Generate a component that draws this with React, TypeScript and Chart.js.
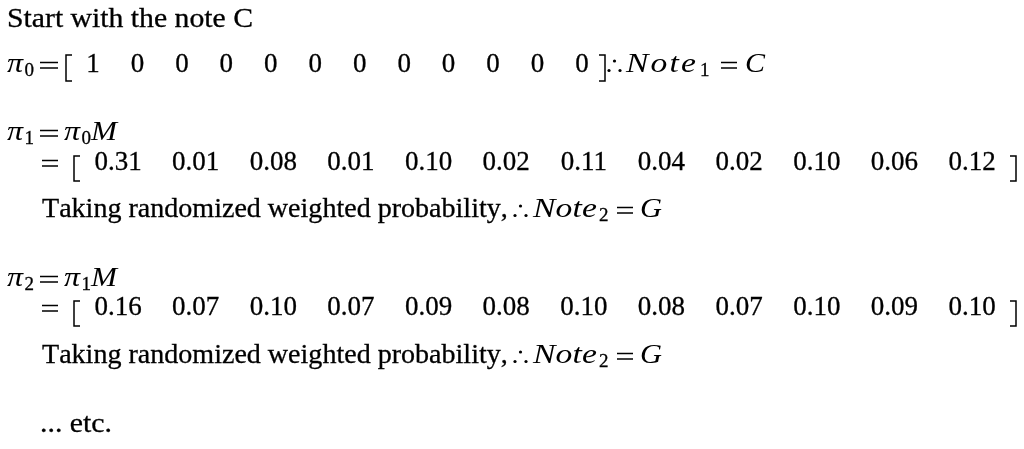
import React, { useEffect, useRef } from "react";
import { Chart, registerables } from "chart.js";

Chart.register(...registerables);

// values
const PI0_VALUES = [1, 0, 0, 0, 0, 0, 0, 0, 0, 0, 0, 0];
const PI1_VALUES = [0.31, 0.01, 0.08, 0.01, 0.1, 0.02, 0.11, 0.04, 0.02, 0.1, 0.06, 0.12];
const PI2_VALUES = [0.16, 0.07, 0.1, 0.07, 0.09, 0.08, 0.1, 0.08, 0.07, 0.1, 0.09, 0.1];
const NOTES = ["C", "G", "G"];
const INTRO = "Start with the note C";
const STEP_TEXT = "Taking randomized weighted probability,";
const ETC = "... etc.";

// layout
const W = 1024;
const H = 449;
const COL0 = { first: 93, step: 44.45 };
const COL1 = { first: 118, step: 77.64 };
const BASE = { intro: 27, row0: 72, eq1: 140, row1: 170, take1: 217, eq2: 286, row2: 315, take2: 363, etc: 432 };

const SERIF = '"Liberation Serif", "Times New Roman", serif';
const F_MAIN = `28px ${SERIF}`;
const F_NUM = `27px ${SERIF}`;
const F_IT = `italic 28px ${SERIF}`;
const F_SUB = `19px ${SERIF}`;

// draw a run at a given width: mild horizontal stretch, rest as letter spacing
function txt(ctx: CanvasRenderingContext2D, s: string, x: number, y: number, font: string, width?: number, maxScale = 1.2) {
  ctx.font = font;
  ctx.textAlign = "left";
  const heavy = !font.startsWith("italic");
  const w = ctx.measureText(s).width;
  const k = width ? Math.min(width / w, maxScale) : 1;
  const gap = width && s.length > 1 ? (width - w * k) / (s.length - 1) : 0;
  ctx.save();
  ctx.translate(x, y);
  ctx.scale(k, 1);
  let cx = 0;
  for (const ch of s) {
    ctx.fillText(ch, cx, 0);
    if (heavy) ctx.strokeText(ch, cx, 0);
    cx += ctx.measureText(ch).width + gap / k;
  }
  ctx.restore();
}

function equals(ctx: CanvasRenderingContext2D, x1: number, x2: number, base: number) {
  ctx.save();
  ctx.lineWidth = 1.4;
  ctx.beginPath();
  ctx.moveTo(x1, base - 9.5);
  ctx.lineTo(x2, base - 9.5);
  ctx.moveTo(x1, base - 4);
  ctx.lineTo(x2, base - 4);
  ctx.stroke();
  ctx.restore();
}

function bracket(ctx: CanvasRenderingContext2D, x: number, top: number, bottom: number, dir: number) {
  ctx.save();
  ctx.lineWidth = 1.5;
  ctx.beginPath();
  ctx.moveTo(x + dir * 6, top);
  ctx.lineTo(x, top);
  ctx.lineTo(x, bottom);
  ctx.lineTo(x + dir * 6, bottom);
  ctx.stroke();
  ctx.restore();
}

function therefore(ctx: CanvasRenderingContext2D, x: number, base: number) {
  const dots = [
    [x + 2, base - 1.5],
    [x + 7.5, base - 11],
    [x + 13, base - 1.5],
  ];
  for (const [dx, dy] of dots) {
    ctx.beginPath();
    ctx.arc(dx, dy, 1.6, 0, Math.PI * 2);
    ctx.fill();
  }
}

function piSub(ctx: CanvasRenderingContext2D, x: number, base: number, sub: string) {
  txt(ctx, "π", x, base, F_IT, 16);
  txt(ctx, sub, x + 17.5, base + 4, F_SUB);
}

const mathPlugin = {
  id: "mathText",
  afterDraw(chart: any) {
    const ctx: CanvasRenderingContext2D = chart.ctx;
    ctx.save();
    ctx.fillStyle = "#000";
    ctx.strokeStyle = "#000";
    ctx.lineWidth = 0.3;
    ctx.textBaseline = "alphabetic";

    txt(ctx, INTRO, 7, BASE.intro, F_MAIN, 246);

    // pi_0 row
    piSub(ctx, 7, BASE.row0, "0");
    equals(ctx, 40, 58, BASE.row0);
    bracket(ctx, 66, BASE.row0 - 17, BASE.row0 + 9, 1);
    bracket(ctx, 605, BASE.row0 - 17, BASE.row0 + 9, -1);
    therefore(ctx, 607, BASE.row0);
    txt(ctx, "Note", 626, BASE.row0, F_IT, 70);
    txt(ctx, "1", 700, BASE.row0 + 4, F_SUB);
    equals(ctx, 721, 737, BASE.row0);
    txt(ctx, NOTES[0], 745, BASE.row0, F_IT, 20);

    // pi_1, pi_2 blocks
    const blocks = [
      { eq: BASE.eq1, row: BASE.row1, take: BASE.take1, sub: "1", prev: "0", note: NOTES[1] },
      { eq: BASE.eq2, row: BASE.row2, take: BASE.take2, sub: "2", prev: "1", note: NOTES[2] },
    ];
    for (const b of blocks) {
      piSub(ctx, 7, b.eq, b.sub);
      equals(ctx, 40, 58, b.eq);
      piSub(ctx, 64, b.eq, b.prev);
      txt(ctx, "M", 91, b.eq, F_IT, 26);

      equals(ctx, 42, 58, b.row);
      bracket(ctx, 74, b.row - 14, b.row + 11, 1);
      bracket(ctx, 1016, b.row - 14, b.row + 11, -1);

      txt(ctx, STEP_TEXT, 42, b.take, F_MAIN, 462);
      therefore(ctx, 513, b.take);
      txt(ctx, "Note", 533, b.take, F_IT, 64);
      txt(ctx, "2", 599, b.take + 4, F_SUB);
      equals(ctx, 617, 633, b.take);
      txt(ctx, b.note, 640, b.take, F_IT, 22);
    }

    txt(ctx, ETC, 40, BASE.etc, F_MAIN, 72);

    // vector entries, placed through the chart's scales
    ctx.font = F_NUM;
    ctx.textAlign = "center";
    chart.data.datasets.forEach((ds: any, i: number) => {
      const meta = chart.getDatasetMeta(i);
      meta.data.forEach((pt: any, j: number) => {
        const v = ds.data[j].v as number;
        const label = i === 0 ? String(v) : v.toFixed(2);
        ctx.fillText(label, pt.x, pt.y);
        ctx.strokeText(label, pt.x, pt.y);
      });
    });
    ctx.restore();
  },
};

function colRange(c: { first: number; step: number }) {
  return { min: -c.first / c.step, max: (W - c.first) / c.step };
}

export default function App() {
  const canvasRef = useRef<HTMLCanvasElement>(null);

  useEffect(() => {
    if (!canvasRef.current) return;
    const rows = [
      { values: PI0_VALUES, axis: "x0", base: BASE.row0 },
      { values: PI1_VALUES, axis: "x1", base: BASE.row1 },
      { values: PI2_VALUES, axis: "x1", base: BASE.row2 },
    ];
    const r0 = colRange(COL0);
    const r1 = colRange(COL1);
    const chart = new Chart(canvasRef.current, {
      type: "scatter",
      data: {
        datasets: rows.map((r) => ({
          data: r.values.map((v, i) => ({ x: i, y: r.base, v })),
          xAxisID: r.axis,
          pointRadius: 0,
          pointHoverRadius: 0,
        })),
      },
      options: {
        animation: false,
        responsive: true,
        maintainAspectRatio: false,
        layout: { padding: 0 },
        events: [],
        plugins: { legend: { display: false }, tooltip: { enabled: false } },
        scales: {
          x0: { type: "linear", display: false, min: r0.min, max: r0.max },
          x1: { type: "linear", display: false, min: r1.min, max: r1.max },
          y: { type: "linear", display: false, min: 0, max: H, reverse: true },
        },
      } as any,
      plugins: [mathPlugin],
    });
    return () => chart.destroy();
  }, []);

  return (
    <div style={{ position: "absolute", left: 0, top: 0, width: W, height: H, background: "#fff" }}>
      <canvas ref={canvasRef} />
    </div>
  );
}
